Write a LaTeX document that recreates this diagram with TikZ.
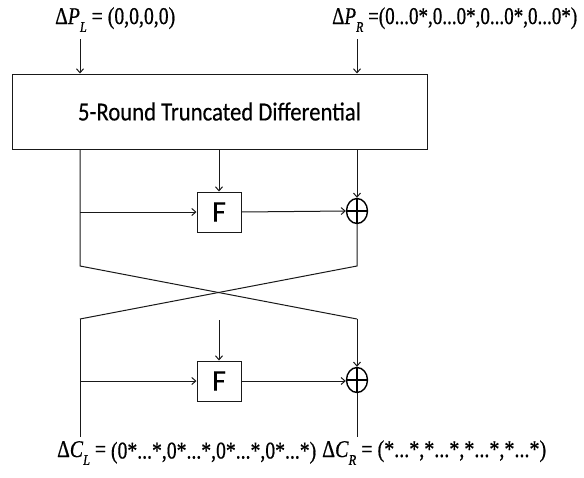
\documentclass[tikz,border=0pt]{standalone}
\usepackage{fontspec}
\setmainfont{Liberation Serif}
\newfontfamily\tnrfont[FakeBold=0.6]{Liberation Serif}
\newfontfamily\calfont[FakeBold=0.3]{Carlito}
\usetikzlibrary{arrows.meta,shapes.geometric}

% difference symbol with italic letter and subscript
\newcommand{\dlab}[2]{Δ\textit{#1}\raisebox{-0.33em}{\fontsize{15}{15}\selectfont\textit{#2}}}
% set a label to a given width, keeping its natural height
\newcommand{\fitw}[2]{\resizebox{#1}{\height}{#2}}

\tikzset{
  wire/.style={line width=1pt, draw=black!90},
  arr/.style={wire, -{Straight Barb[length=4pt,width=7pt,line width=1pt]}},
  bigbox/.style={draw=black!90, line width=1pt, minimum width=415pt, minimum height=75pt,
    inner sep=0pt, font=\calfont\fontsize{26}{28}\selectfont},
  fbox/.style={draw=black!90, line width=1pt, minimum width=44pt, minimum height=40pt,
    inner sep=0pt, font=\calfont\fontsize{30}{30}\selectfont},
  xor/.style={ellipse, draw=black, line width=1.4pt, minimum width=21pt, minimum height=25pt,
    inner sep=0pt,
    path picture={\draw[line width=1.4pt]
      (path picture bounding box.north) -- (path picture bounding box.south)
      (path picture bounding box.west) -- (path picture bounding box.east);}},
  lab/.style={anchor=base west, inner sep=0pt, font=\tnrfont\fontsize{24}{26}\selectfont},
}

\begin{document}
\begin{tikzpicture}[x=1pt,y=-1pt]
\useasboundingbox (0,0) rectangle (584,477);

% blocks
\node[bigbox] (R5) at (219.5,111.5) {\fitw{283pt}{5-Round Truncated Differential}};
\node[fbox] (F1) at (219,212) {F};
\node[xor] (X1) at (357,211) {};
\node[fbox] (F2) at (219,381) {F};
\node[xor] (X2) at (357,380) {};

% input and output labels
\node[lab] (PL) at (55,24) {\fitw{120pt}{\dlab{P}{L} = (0,0,0,0)}};
\node[lab] (PR) at (332,24) {\fitw{245pt}{\dlab{P}{R} =(0...0*,0...0*,0...0*,0...0*)}};
\node[lab] (CL) at (57,457) {\fitw{259pt}{\dlab{C}{L} = \raisebox{-1.5pt}{(0*...*,0*...*,0*...*,0*...*)}}};
\node[lab] (CR) at (322,457) {\fitw{224pt}{\dlab{C}{R} = (*...*,*...*,*...*,*...*)}};

% wire end points
\coordinate (inL) at (80,39);
\coordinate (inR) at (357,39);
\coordinate (cL1) at (80,266);
\coordinate (cR1) at (357,266);
\coordinate (cL2) at (80,319);
\coordinate (cR2) at (357,319);
\coordinate (f2in) at (219,320);
\coordinate (outL) at (80,437);
\coordinate (outR) at (357,437);

% inputs into the truncated differential block
\draw[arr] (inL) -- (inL |- R5.north);
\draw[arr] (inR) -- (inR |- R5.north);

% first round
\draw[arr] (R5.south -| F1) -- (F1.north);
\draw[arr] (R5.south -| X1) -- (X1.north);
\draw[arr] (F1.west -| cL1) -- (F1.west);
\draw[arr] (F1.east) -- (X1.west);

% left branch and swap
\draw[wire] (R5.south -| cL1) -- (cL1) -- (cR2);
\draw[wire] (X1.south) -- (cR1) -- (cL2);

% second round
\draw[arr] (f2in) -- (F2.north);
\draw[arr] (F2.west -| cL2) -- (F2.west);
\draw[arr] (F2.east) -- (X2.west |- F2.east);
\draw[arr] (cR2) -- (X2.north);

% outputs
\draw[wire] (cL2) -- (outL);
\draw[wire] (X2.south) -- (outR);
\end{tikzpicture}
\end{document}
